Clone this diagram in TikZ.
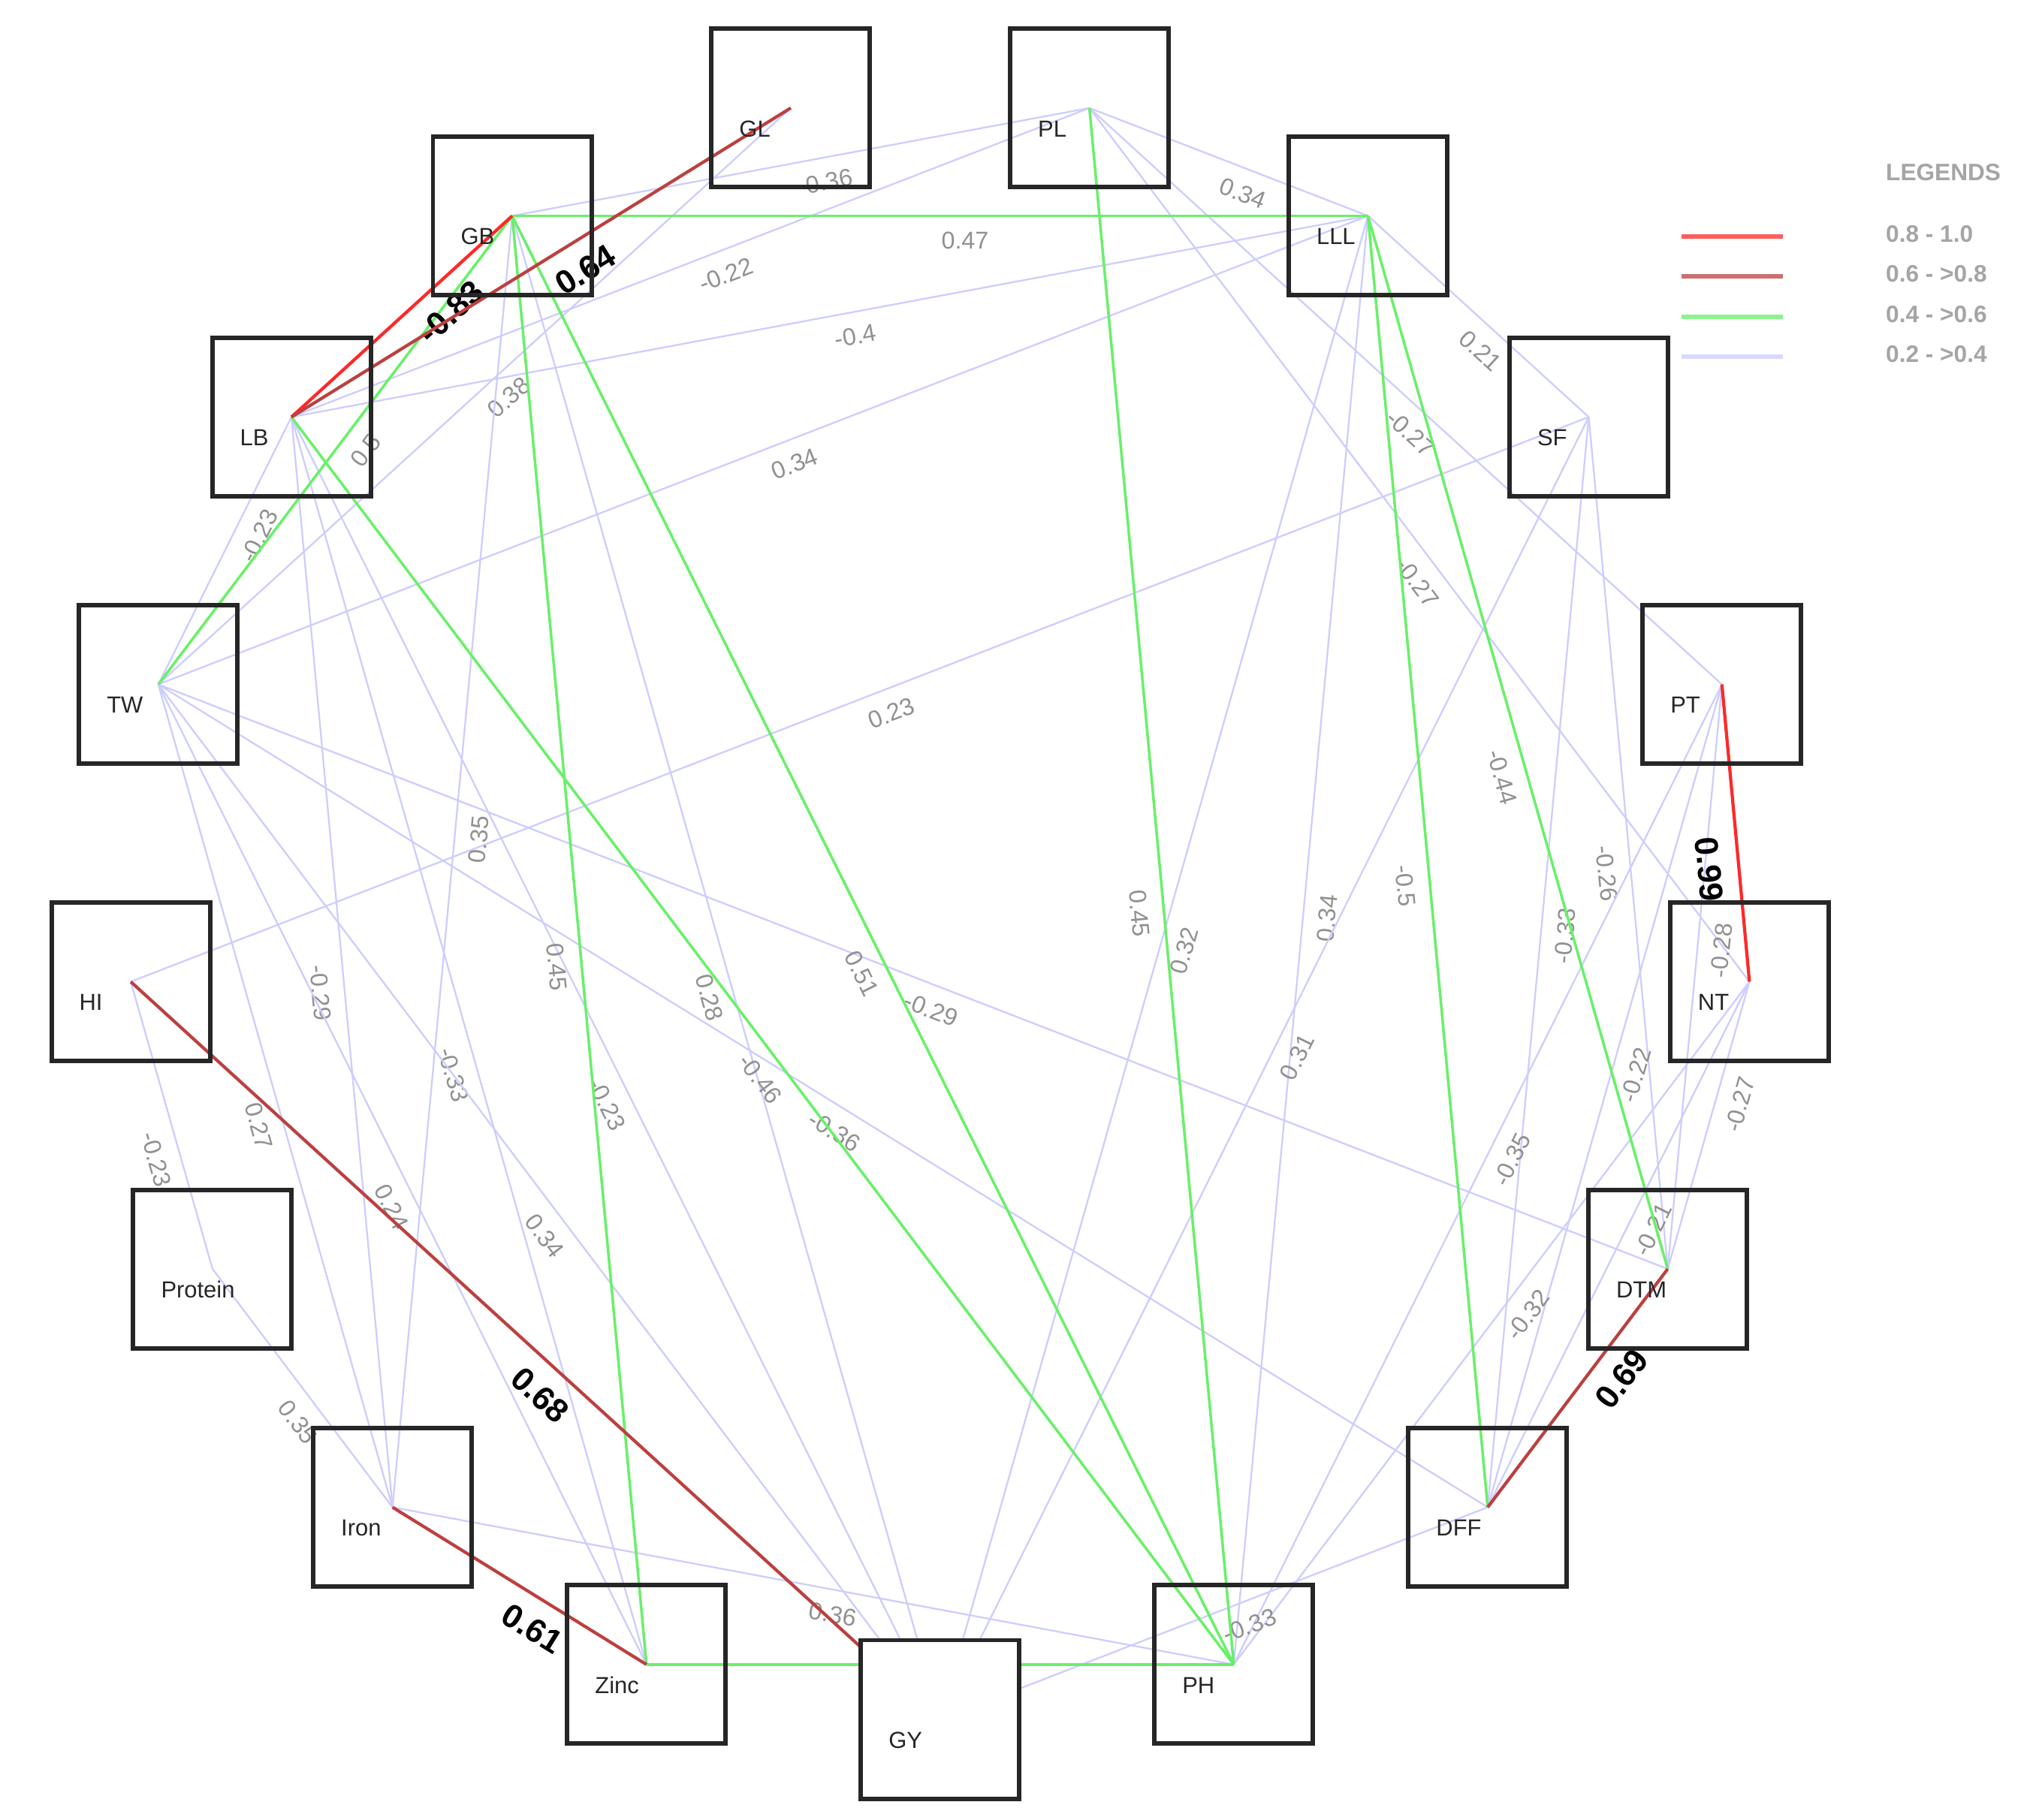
\documentclass[tikz,border=0pt]{standalone}
\usepackage{fontspec}
\setmainfont{Liberation Sans}
\usetikzlibrary{calc,backgrounds}

\definecolor{corstrong}{RGB}{255,40,40}
\definecolor{cormid}{RGB}{188,64,64}
\definecolor{corgreen}{RGB}{105,240,105}
\definecolor{corweak}{RGB}{205,205,255}
\definecolor{labgray}{RGB}{145,145,145}
\definecolor{leggray}{RGB}{165,165,165}

\begin{document}
\begin{tikzpicture}[x=0.01729cm,y=-0.01729cm,
  vbox/.style={draw=black!85,line width=1.7pt,minimum size=2.11cm,inner sep=0pt},
  vname/.style={anchor=west,inner sep=0pt,text=black!85,font=\fontsize{8.8}{10}\selectfont},
  rs/.style={draw=corstrong,line width=1.2pt},
  rm/.style={draw=cormid,line width=1.2pt},
  rg/.style={draw=corgreen,line width=1pt},
  rw/.style={draw=corweak,line width=0.65pt},
  lab/.style={midway,sloped,anchor=north west,inner xsep=0pt,inner ysep=5.6pt,text=labgray,font=\fontsize{9.2}{11}\selectfont},
  blab/.style={midway,sloped,anchor=north west,inner xsep=0pt,inner ysep=6.2pt,text=black,font=\fontsize{12.5}{14}\selectfont\bfseries},
  legtxt/.style={anchor=west,inner sep=0pt,text=leggray,font=\fontsize{9}{10}\selectfont\bfseries}]
\path[use as bounding box] (0,0) rectangle (1568,1402);

\coordinate (ctr) at (724,698.5);
\foreach \nm [count=\k from 0] in {GY,PH,DFF,DTM,NT,PT,SF,LLL,PL,GL,GB,LB,TW,HI,Protein,Iron,Zinc}{
  \node[vbox] (\nm) at ($(ctr)+({90-\k*360/17}:626)$) {};
  \node[vname] (\nm-name) at ($(\nm)+(-40,16)$) {\nm};
}

\begin{pgfonlayer}{background}
\fill[white] (0,0) rectangle (1568,1402);
\foreach \a/\b/\v in {GB/PL/0.36, LB/PL/-0.22, LB/LLL/-0.4, PL/LLL/0.34, TW/LLL/0.34,
    GL/TW/0.38, LB/TW/-0.23, LLL/SF/0.21, PL/PT/-0.27, PL/NT/-0.27, HI/SF/0.23,
    SF/DTM/-0.26, SF/DFF/-0.33, PT/DTM/-0.28, NT/DTM/-0.27, PT/DFF/-0.22, NT/DFF/-0.21,
    PH/NT/-0.32, PH/PT/-0.35, GB/Iron/0.35, GB/GY/0.28, TW/DTM/-0.29, LLL/GY/0.32,
    LLL/PH/0.34, SF/GY/0.31, LB/Iron/-0.29, LB/Zinc/-0.33, TW/DFF/-0.36, LB/GY/-0.23,
    TW/Iron/0.27, HI/Protein/-0.23, TW/Zinc/0.24, TW/GY/0.34, Protein/Iron/0.35,
    Iron/PH/0.36, GY/DFF/-0.33}
  \draw[rw] (\a.center) -- (\b.center) node[lab] {\v};
\foreach \a/\b/\v in {GB/LLL/0.47, GB/TW/0.5, GB/Zinc/0.45, GB/PH/0.51, LB/PH/-0.46,
    PL/PH/0.45, LLL/DFF/-0.5, LLL/DTM/-0.44}
  \draw[rg] (\a.center) -- (\b.center) node[lab] {\v};
\draw[rg] (Zinc.center) -- (PH.center);
\draw[rs] (GB.center) -- (LB.center) node[blab] {-0.83};
\draw[rs] (PT.center) -- (NT.center) node[blab] {0.99};
\draw[rm] (LB.center) -- (GL.center) node[blab] {0.64};
\draw[rm] (HI.center) -- (GY.center) node[blab] {0.68};
\draw[rm] (Iron.center) -- (Zinc.center) node[blab] {0.61};
\draw[rm] (DFF.center) -- (DTM.center) node[blab] {0.69};
\fill[white] (GY.north west) rectangle (GY.south east);
\end{pgfonlayer}

\node[legtxt] (legtitle) at (1452,133) {LEGENDS};
\foreach \st/\txt/\yy [count=\i] in {rs/0.8 - 1.0/182, rm/0.6 - >0.8/213, rg/0.4 - >0.6/244, rw/0.2 - >0.4/275}{
  \coordinate (legA\i) at (1295,\yy);
  \coordinate (legB\i) at (1373,\yy);
  \draw[\st,line width=1.7pt,opacity=0.75] (legA\i) -- (legB\i);
  \node[legtxt] (leg\i) at (1452,\yy-2) {\txt};
}
\end{tikzpicture}
\end{document}
